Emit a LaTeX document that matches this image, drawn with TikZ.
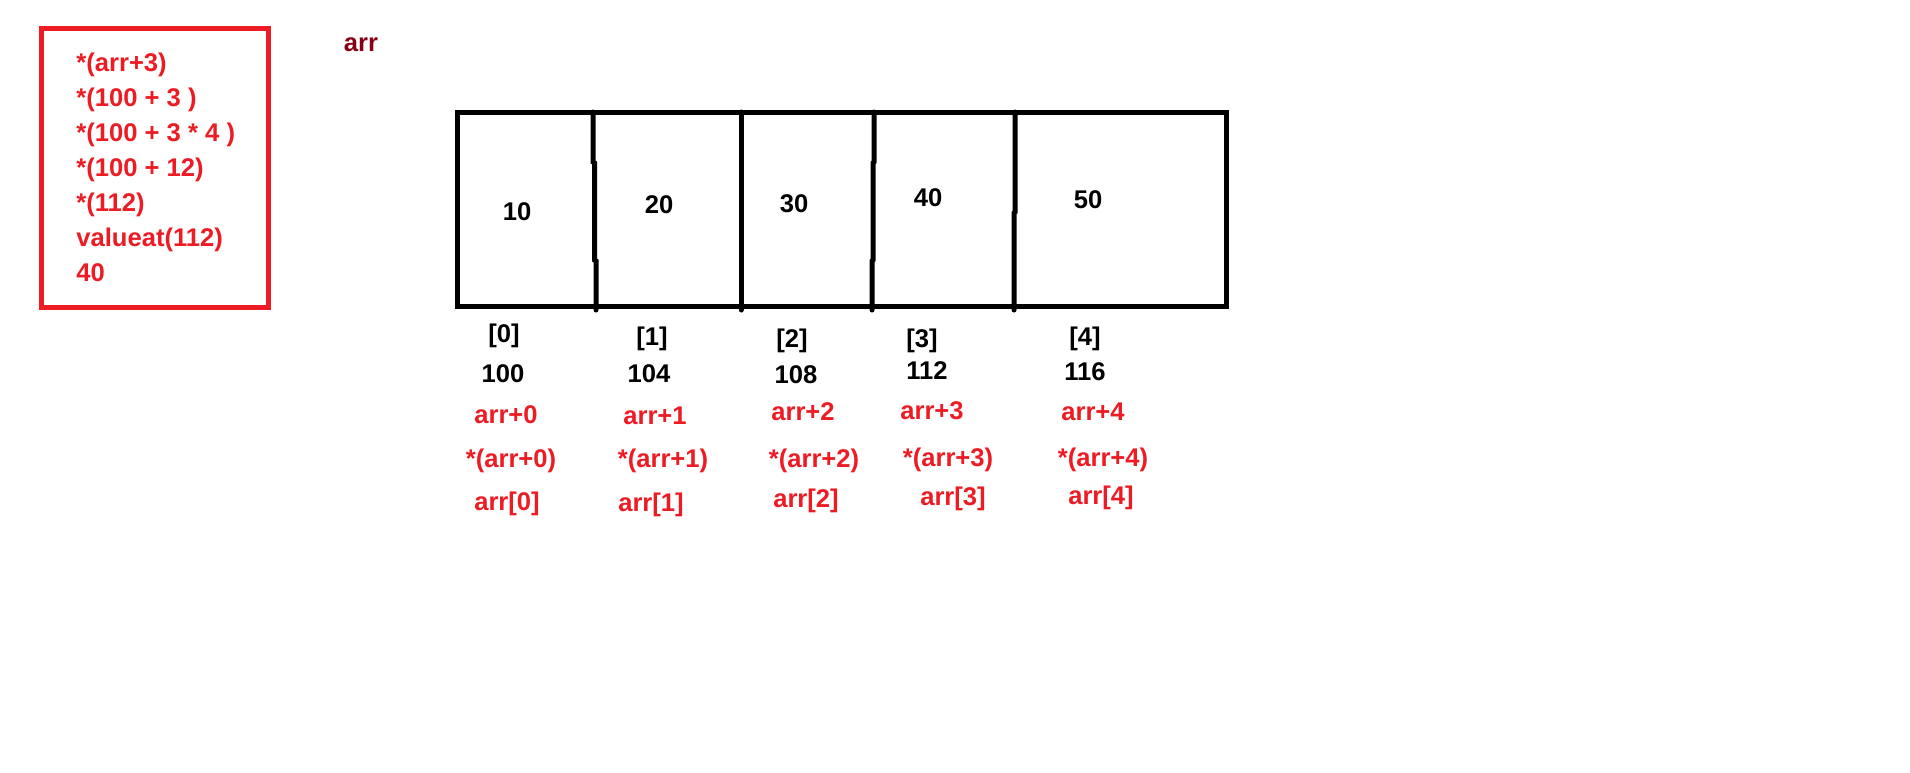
\documentclass[tikz,border=0pt]{standalone}
\usepackage{fontspec}
\setmainfont{Liberation Sans}
\definecolor{paintred}{RGB}{237,28,36}
\definecolor{paintdark}{RGB}{136,0,21}
\begin{document}
\begin{tikzpicture}[x=0.5pt, y=-0.5pt,
  txt/.style={inner sep=0pt, anchor=base, font=\fontsize{12.8}{14}\selectfont\bfseries},
  blk/.style={txt, text=black},
  expr/.style={txt, text=paintred},
  calc/.style={expr, anchor=base west},
  cellline/.style={line width=2.5pt, black},
  divider/.style={line width=2.5pt, black, line cap=round}]
\fill[white] (0,0) rectangle (1910,772);
\useasboundingbox (0,0) rectangle (1910,772);
\draw[line width=2.5pt, paintred] (41,28) rectangle (268,307);
\node[calc] (c1) at (76,71) {*(arr+3)};
\node[calc] (c2) at (76,106) {*(100 + 3 )};
\node[calc] (c3) at (76,141) {*(100 + 3 * 4 )};
\node[calc] (c4) at (76,176) {*(100 + 12)};
\node[calc] (c5) at (76,211) {*(112)};
\node[calc] (c6) at (76,246) {valueat(112)};
\node[calc] (c7) at (76,281) {40};
\node[txt, text=paintdark] (name) at (361,51) {arr};
\draw[cellline] (457,112) rectangle (1226,306);
\draw[divider] (593,112) -- (593,162) -- (594.5,163) -- (594.5,260) -- (596,261) -- (596,310);
\draw[divider] (741,112) -- (741,310);
\draw[divider] (874,112) -- (874,162) -- (873,163) -- (873,260) -- (872,261) -- (872,310);
\draw[divider] (1015,112) -- (1015,212) -- (1014,213) -- (1014,310);
\node[blk] (v0) at (517,220) {10};
\node[blk] (v1) at (659,213) {20};
\node[blk] (v2) at (794,212) {30};
\node[blk] (v3) at (928,206) {40};
\node[blk] (v4) at (1088,208) {50};
\node[blk] (i0) at (504,342) {[0]};
\node[blk] (i1) at (652,345) {[1]};
\node[blk] (i2) at (792,347) {[2]};
\node[blk] (i3) at (922,347) {[3]};
\node[blk] (i4) at (1085,345) {[4]};
\node[blk] (a0) at (503,382) {100};
\node[blk] (a1) at (649,382) {104};
\node[blk] (a2) at (796,383) {108};
\node[blk] (a3) at (927,379) {112};
\node[blk] (a4) at (1085,380) {116};
\node[expr] (p0) at (506,423) {arr+0};
\node[expr] (p1) at (655,424) {arr+1};
\node[expr] (p2) at (803,420) {arr+2};
\node[expr] (p3) at (932,419) {arr+3};
\node[expr] (p4) at (1093,420) {arr+4};
\node[expr] (d0) at (511,467) {*(arr+0)};
\node[expr] (d1) at (663,467) {*(arr+1)};
\node[expr] (d2) at (814,467) {*(arr+2)};
\node[expr] (d3) at (948,466) {*(arr+3)};
\node[expr] (d4) at (1103,466) {*(arr+4)};
\node[expr] (s0) at (507,510) {arr[0]};
\node[expr] (s1) at (651,511) {arr[1]};
\node[expr] (s2) at (806,507) {arr[2]};
\node[expr] (s3) at (953,505) {arr[3]};
\node[expr] (s4) at (1101,504) {arr[4]};
\end{tikzpicture}
\end{document}
